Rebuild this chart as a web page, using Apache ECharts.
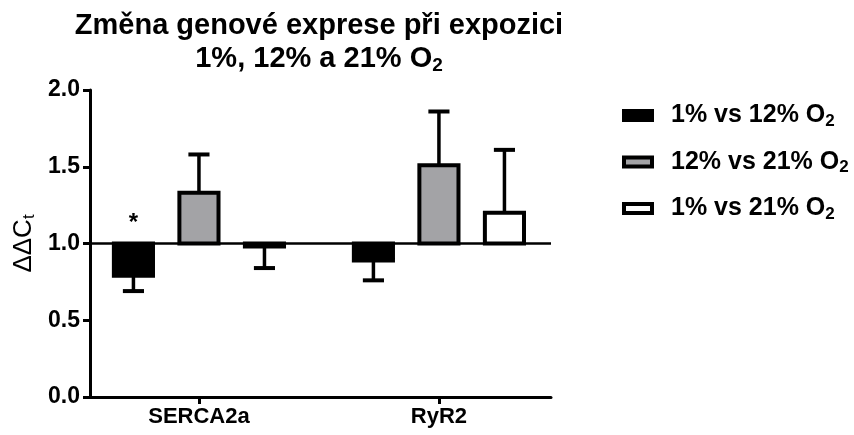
<!DOCTYPE html>
<html>
<head>
<meta charset="utf-8">
<script src="https://cdn.jsdelivr.net/npm/echarts@6/dist/echarts.min.js"></script>
<style>
  html, body { margin: 0; padding: 0; background: #fff; }
  #chart { width: 854px; height: 435px; }
</style>
</head>
<body>
<div id="chart"></div>
<script>
// Genes on the x axis
const categories = ['SERCA2a', 'RyR2'];

// Comparisons (legend entries); the trailing "2" is drawn as a subscript
const seriesNames = ['1% vs 12% O2', '12% vs 21% O2', '1% vs 21% O2'];

// ΔΔCt means and one-sided error (SEM) per comparison, one value per gene
const mean1v12 = [0.79, 0.89];
const err1v12 = [0.10, 0.13];
const mean12v21 = [1.33, 1.51];
const err12v21 = [0.25, 0.35];
const mean1v21 = [0.98, 1.20];
const err1v21 = [0.14, 0.41];

// Significance marks per gene for the 1% vs 12% comparison
const sig1v12 = ['*', ''];

// y axis ticks
const yTicks = [0, 0.5, 1.0, 1.5, 2.0];

// Reference level that the bars rise or fall from
const BASELINE = 1.0;

// Layout in x-axis units (one unit = spacing between genes)
const X_MIN = -0.454;
const X_MAX = 1.467;
const BAR_OFFSETS = [-0.273, 0, 0.273];
const BAR_WIDTH = 0.163;
const CAP_WIDTH = 0.088;

const FONT = '"Liberation Sans", Arial, Helvetica, sans-serif';
const fills = ['#000000', '#a3a3a6', '#ffffff'];

const means = [mean1v12, mean12v21, mean1v21];
const errs = [err1v12, err12v21, err1v21];
const marks = [sig1v12, ['', ''], ['', '']];

function renderBar(k) {
  return function (params, api) {
    const xv = api.value(0) + BAR_OFFSETS[k];
    const m = api.value(1);
    const e = api.value(2);
    const dir = m >= BASELINE ? 1 : -1;
    const base = api.coord([xv, BASELINE]);
    const end = api.coord([xv, m]);
    const cap = api.coord([xv, m + dir * e]);
    const w = api.size([BAR_WIDTH, 0])[0];
    const cw = api.size([CAP_WIDTH, 0])[0];
    const cx = base[0];
    const children = [
      {
        type: 'line',
        shape: { x1: cx, y1: end[1], x2: cx, y2: cap[1] },
        style: { stroke: '#000', lineWidth: 3.5 }
      },
      {
        type: 'line',
        shape: { x1: cx - cw / 2, y1: cap[1], x2: cx + cw / 2, y2: cap[1] },
        style: { stroke: '#000', lineWidth: 4 }
      },
      {
        type: 'rect',
        shape: {
          x: cx - w / 2,
          y: Math.min(base[1], end[1]),
          width: w,
          height: Math.abs(base[1] - end[1])
        },
        style: { fill: fills[k], stroke: '#000', lineWidth: 4 }
      }
    ];
    const mark = marks[k][params.dataIndex];
    if (mark) {
      children.push({
        type: 'text',
        x: cx,
        y: base[1] - 20,
        style: {
          text: mark,
          align: 'center',
          verticalAlign: 'middle',
          font: 'bold 24px ' + FONT,
          fill: '#000'
        }
      });
    }
    return { type: 'group', children: children };
  };
}

const series = seriesNames.map(function (name, k) {
  const s = {
    name: name,
    type: 'custom',
    coordinateSystem: 'cartesian2d',
    renderItem: renderBar(k),
    itemStyle: { color: fills[k], borderColor: '#000', borderWidth: 4 },
    encode: { x: 0, y: 1 },
    data: categories.map(function (c, i) { return [i, means[k][i], errs[k][i]]; }),
    z: 3
  };
  if (k === 0) {
    s.markLine = {
      silent: true,
      symbol: 'none',
      label: { show: false },
      lineStyle: { color: '#000', width: 2.5, type: 'solid' },
      data: [{ yAxis: BASELINE }],
      z: 2
    };
  }
  return s;
});

const chart = echarts.init(document.getElementById('chart'), null, { renderer: 'canvas' });

chart.setOption({
  animation: false,
  backgroundColor: '#ffffff',
  graphic: [
    {
      type: 'text',
      x: 319,
      y: 9,
      style: {
        text: '{t|Změna genové exprese při expozici}\n{t|1%, 12% a 21% O}{s|2}',
        align: 'center',
        verticalAlign: 'top',
        fill: '#000',
        rich: {
          t: { fontSize: 29, fontWeight: 'bold', fontFamily: FONT, lineHeight: 33, fill: '#000' },
          s: { fontSize: 19, fontWeight: 'bold', fontFamily: FONT, lineHeight: 12, verticalAlign: 'bottom', fill: '#000' }
        }
      }
    }
  ],
  legend: {
    orient: 'vertical',
    left: 622,
    top: 103,
    padding: 0,
    icon: 'rect',
    itemWidth: 28,
    itemHeight: 9,
    itemGap: 20,
    selectedMode: false,
    data: seriesNames.map(function (n, k) {
      return { name: n, itemStyle: { color: fills[k], borderColor: '#000', borderWidth: 4 } };
    }),
    formatter: function (name) {
      return '{a|' + name.slice(0, -1) + '}{s|2}';
    },
    textStyle: {
      rich: {
        a: { fontSize: 25, fontWeight: 'bold', fontFamily: FONT, color: '#000', lineHeight: 28, padding: [0, 0, 0, 14] },
        s: { fontSize: 17, fontWeight: 'bold', fontFamily: FONT, color: '#000', lineHeight: 10, verticalAlign: 'bottom' }
      }
    }
  },
  grid: {
    left: 90,
    right: 303,
    top: 90,
    bottom: 38,
    containLabel: false
  },
  xAxis: {
    type: 'value',
    min: X_MIN,
    max: X_MAX,
    splitLine: { show: false },
    axisLine: { show: true, onZero: false, lineStyle: { color: '#000', width: 3 } },
    axisTick: {
      show: true,
      customValues: categories.map(function (c, i) { return i; }),
      length: 7,
      lineStyle: { color: '#000', width: 3 }
    },
    axisLabel: {
      show: true,
      customValues: categories.map(function (c, i) { return i; }),
      formatter: function (v) { return categories[Math.round(v)]; },
      color: '#000',
      fontSize: 22,
      fontWeight: 'bold',
      fontFamily: FONT,
      margin: 9
    }
  },
  yAxis: {
    type: 'value',
    min: yTicks[0],
    max: yTicks[yTicks.length - 1],
    interval: yTicks[1] - yTicks[0],
    name: '{a|ΔΔC}{s|t}',
    nameLocation: 'middle',
    nameRotate: 90,
    nameGap: 52,
    nameMoveOverlap: false,
    nameTextStyle: {
      rich: {
        a: { fontSize: 26, fontFamily: FONT, color: '#000', lineHeight: 28 },
        s: { fontSize: 17, fontFamily: FONT, color: '#000', lineHeight: 10, verticalAlign: 'bottom' }
      }
    },
    splitLine: { show: false },
    axisLine: { show: true, onZero: false, lineStyle: { color: '#000', width: 3 } },
    axisTick: { show: true, length: 7, lineStyle: { color: '#000', width: 3 } },
    axisLabel: {
      color: '#000',
      fontSize: 23,
      fontWeight: 'bold',
      fontFamily: FONT,
      margin: 10,
      formatter: function (v) { return v.toFixed(1); }
    }
  },
  series: series
});
</script>
</body>
</html>
